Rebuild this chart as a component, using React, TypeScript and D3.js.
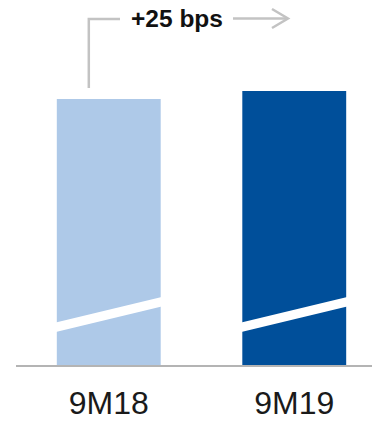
import React from "react";
import * as d3 from "d3";

const categories = ["9M18", "9M19"];
const values = [12.0, 12.25];
const barColors = ["#aec9e8", "#004f9a"];
const annotationText = "+25 bps";
const axisMin = 3.656;

const W = 372;
const H = 421;

export default function App() {
  const x = d3.scaleBand<string>().domain(categories).range([16, 387]).paddingInner(0.44).paddingOuter(0.22);
  const y = d3.scaleLinear().domain([axisMin, d3.max(values) as number]).range([366, 91]);
  const bw = x.bandwidth();
  const base = y(axisMin);
  const gray = "#c3c3c3";
  const bx0 = x(categories[0]) as number;
  return (
    <svg width={W} height={H} style={{ position: "absolute", left: 0, top: 0 }}>
      <rect width={W} height={H} fill="#fff" />
      {categories.map((c, i) => {
        const x0 = x(c) as number;
        return (
          <g key={c}>
            <rect x={x0} y={y(values[i])} width={bw} height={base - y(values[i])} fill={barColors[i]} />
            <polygon
              points={`${x0 - 1},${322.5} ${x0 + bw + 1},${297} ${x0 + bw + 1},${306.5} ${x0 - 1},${332}`}
              fill="#fff"
            />
            <text
              x={x0 + bw / 2}
              y={414}
              textAnchor="middle"
              fontFamily="Liberation Sans, Arial, sans-serif"
              fontSize={32}
              fill="#1a1a1a"
            >
              {c}
            </text>
          </g>
        );
      })}
      <line x1={16} x2={W} y1={366} y2={366} stroke="#b4b4b4" strokeWidth={2} />
      <path
        d={`M${bx0 + 32},${88} V${19} H${120}`}
        fill="none"
        stroke={gray}
        strokeWidth={2.5}
      />
      <text
        x={177}
        y={26.5}
        textAnchor="middle"
        fontFamily="Liberation Sans, Arial, sans-serif"
        fontWeight="bold"
        fontSize={24.5}
        fill="#111"
      >
        {annotationText}
      </text>
      <line x1={233} x2={288} y1={18.5} y2={18.5} stroke={gray} strokeWidth={2.5} />
      <path d={`M${272},${9} L${288},${18.5} L${272},${28}`} fill="none" stroke={gray} strokeWidth={2.5} />
    </svg>
  );
}
